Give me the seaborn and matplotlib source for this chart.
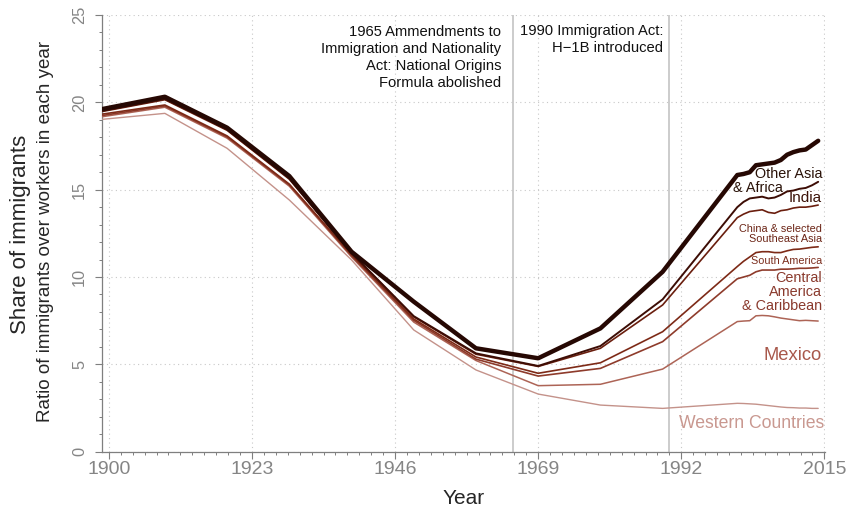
import numpy as np
import pandas as pd
import matplotlib
matplotlib.use("Agg")
import matplotlib.pyplot as plt
import seaborn as sns

# years (census decades, then yearly)
years = [1899, 1909, 1919, 1929, 1939, 1949, 1959, 1969, 1979, 1989,
         2001, 2002, 2003, 2004, 2005, 2006, 2007, 2008, 2009, 2010,
         2011, 2012, 2013, 2014]

# cumulative share: each line = this group plus all groups below it
western = [19.03, 19.37, 17.37, 14.41, 10.98, 6.97, 4.68, 3.30, 2.67, 2.48,
           2.77, 2.76, 2.74, 2.72, 2.68, 2.64, 2.60, 2.56, 2.53, 2.52,
           2.50, 2.50, 2.48, 2.48]
mexico = [19.18, 19.72, 17.95, 15.20, 11.15, 7.42, 5.22, 3.78, 3.86, 4.73,
          7.45, 7.48, 7.50, 7.78, 7.80, 7.78, 7.72, 7.65, 7.60, 7.55,
          7.50, 7.52, 7.50, 7.48]
central_am = [19.25, 19.79, 18.02, 15.27, 11.22, 7.52, 5.30, 4.33, 4.77, 6.30,
              9.90, 10.00, 10.10, 10.30, 10.40, 10.40, 10.40, 10.45, 10.45, 10.47,
              10.50, 10.50, 10.52, 10.55]
south_am = [19.33, 19.85, 18.08, 15.32, 11.28, 7.60, 5.42, 4.49, 5.09, 6.87,
            10.60, 10.90, 11.15, 11.40, 11.45, 11.45, 11.40, 11.40, 11.50, 11.58,
            11.60, 11.65, 11.70, 11.73]
china_sea = [19.48, 20.15, 18.40, 15.60, 11.36, 7.72, 5.58, 4.88, 5.92, 8.40,
             13.40, 13.60, 13.75, 13.80, 13.85, 13.70, 13.65, 13.80, 13.85, 13.95,
             14.00, 14.00, 14.05, 14.12]
india = [19.52, 20.20, 18.45, 15.65, 11.38, 7.76, 5.63, 4.91, 6.05, 8.72,
         14.00, 14.30, 14.50, 14.55, 14.60, 14.50, 14.55, 14.70, 14.90, 14.95,
         15.05, 15.10, 15.25, 15.45]
total = [19.62, 20.32, 18.55, 15.78, 11.45, 8.59, 5.92, 5.35, 7.06, 10.30,
         15.84, 15.90, 16.00, 16.40, 16.45, 16.50, 16.55, 16.70, 17.00, 17.15,
         17.25, 17.30, 17.55, 17.80]

groups = ["Western Countries", "Mexico", "Central America & Caribbean",
          "South America", "China & selected Southeast Asia", "India",
          "Other Asia & Africa"]
series = [western, mexico, central_am, south_am, china_sea, india, total]
colors = ["#c4928a", "#ad6456", "#8e3b2b", "#7d2a17", "#6a1e0e", "#3d0d05", "#260803"]
widths = [1.0, 1.1, 1.2, 1.2, 1.2, 1.4, 3.2]

policy_years = [1965, 1990]

sns.set_style("white")
plt.rcParams['font.family'] = ['Liberation Sans', 'DejaVu Sans']

fig = plt.figure(figsize=(8.48, 5.16), dpi=100)
ax = fig.add_axes([0.1203, 0.1246, 0.8526, 0.8463])

ax.set_xlim(1898.9, 2015.1)
ax.set_ylim(0, 25)

xmaj = [1900, 1923, 1946, 1969, 1992, 2015]
ax.set_xticks(xmaj)
ax.set_xticks(np.arange(1900, 2015.01, 23 / 12), minor=True)
ax.set_yticks([0, 5, 10, 15, 20, 25])
ax.set_yticks(np.arange(0, 26, 1), minor=True)

ax.grid(True, which='major', linestyle=(0, (1, 3)), color='#c8c8c8', linewidth=0.8)
ax.set_axisbelow(True)

for yr in policy_years:
    ax.axvline(yr, color='#c4c4c4', linewidth=1.2, zorder=1)

for name, vals, c, lw in zip(groups, series, colors, widths):
    sns.lineplot(x=years, y=vals, ax=ax, color=c, linewidth=lw,
                 solid_capstyle='round', solid_joinstyle='round', zorder=3)

# right-hand labels
lab = dict(ha='right', va='center', clip_on=False)
ax.text(2014.7, 15.87, "Other Asia", color="#2a1208", fontsize=10.4, **lab)
ax.text(2008.4, 15.09, "& Africa", color="#2a1208", fontsize=10.4, **lab)
ax.text(2014.6, 14.55, "India", color="#3b1208", fontsize=11, **lab)
ax.text(2014.6, 12.48, "China & selected\nSoutheast Asia", color="#6b2415",
        fontsize=7.8, linespacing=0.98, **lab)
ax.text(2014.6, 10.92, "South America", color="#7a2c1c", fontsize=7.8, **lab)
ax.text(2014.6, 9.13, "Central\nAmerica\n& Caribbean", color="#8a3a2d",
        fontsize=10.4, linespacing=1.0, **lab)
ax.text(2014.6, 5.49, "Mexico", color="#a8584b", fontsize=13.2, **lab)
ax.text(2014.9, 1.60, "Western Countries", color="#c99890", fontsize=12.7, **lab)

# policy notes
ax.text(1963.1, 22.55, "1965 Ammendments to\nImmigration and Nationality\n"
        "Act: National Origins\nFormula abolished",
        ha='right', va='center', fontsize=10.6, linespacing=1.27, color='#111111')
ax.text(1989.1, 23.62, "1990 Immigration Act:\nH\u22121B introduced",
        ha='right', va='center', fontsize=10.6, linespacing=1.27, color='#111111')

for side in ['top', 'right']:
    ax.spines[side].set_visible(False)
for side in ['left', 'bottom']:
    ax.spines[side].set_color('#7f7f7f')
    ax.spines[side].set_linewidth(0.9)

ax.tick_params(axis='both', which='both', bottom=True, left=True,
               top=False, right=False)
ax.tick_params(axis='both', which='major', direction='out', length=4.8,
               width=0.8, color='#7f7f7f')
ax.tick_params(axis='both', which='minor', direction='out', length=2.4,
               width=0.7, color='#7f7f7f')
ax.tick_params(axis='x', which='major', labelsize=14, labelcolor='#858585', pad=2)
ax.tick_params(axis='y', which='major', labelsize=11.8, labelcolor='#858585', pad=6)
for t in ax.get_yticklabels():
    t.set_rotation(90)
    t.set_va('center')

ax.set_xlabel("Year", fontsize=15, labelpad=8)
ax.set_ylabel("")
fig.text(0.0236, 0.5465, "Share of immigrants", rotation=90, ha='center',
         va='center', fontsize=16)
fig.text(0.0531, 0.5523, "Ratio of immigrants over workers in each year",
         rotation=90, ha='center', va='center', fontsize=13.5)

fig.savefig("out.png", dpi=100)
